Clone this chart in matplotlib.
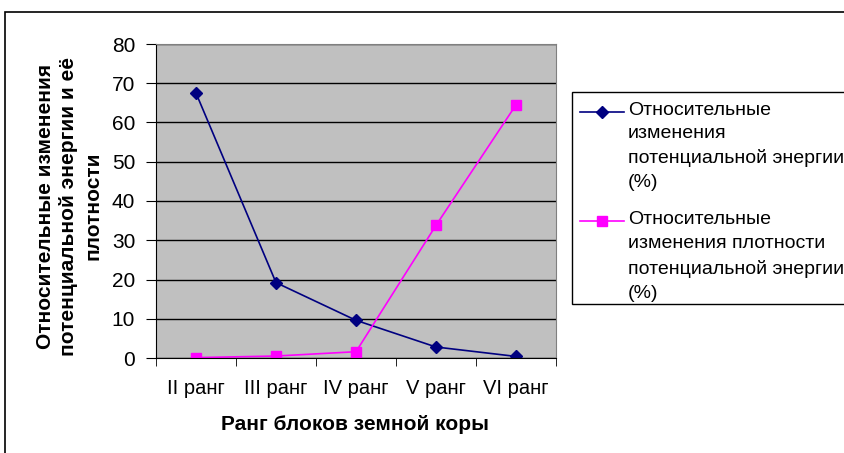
import matplotlib.pyplot as plt
import matplotlib.patches as patches
from matplotlib.lines import Line2D
import numpy as np

plt.rcParams['font.family'] = ['Liberation Sans', 'DejaVu Sans']

# data
ranks = ['II ранг', 'III ранг', 'IV ранг', 'V ранг', 'VI ранг']
energy = [67.5, 19.2, 9.6, 2.8, 0.4]
density = [0.1, 0.5, 1.6, 33.8, 64.5]
label_energy = 'Относительные\nизменения\nпотенциальной энергии\n(%)'
label_density = 'Относительные\nизменения плотности\nпотенциальной энергии\n(%)'

W, H = 845, 453
fig = plt.figure(figsize=(W / 100, H / 100), dpi=100)


def fx(px):
    return px / W


def fy(py):
    return 1 - py / H


# outer chart frame (right and bottom edges run off the picture)
fig.patches.append(patches.Rectangle((fx(5), -0.1), 1.0, fy(12) + 0.1,
                                     transform=fig.transFigure, fill=False,
                                     edgecolor='black', linewidth=1.2))

ax = fig.add_axes([fx(156), fy(358), 400 / W, 314 / H])
ax.set_facecolor('#C0C0C0')

x = np.arange(len(ranks))
styles = [
    (energy, '#000080', 'D', 6, label_energy),
    (density, '#FF00FF', 's', 6.5, label_density),
]
for vals, col, mk, ms, lab in styles:
    ax.plot(x, vals, color=col, marker=mk, markersize=ms, linewidth=1.2)

ax.set_xlim(-0.5, len(ranks) - 0.5)
ax.set_ylim(0, 80)
ax.set_yticks(np.arange(0, 81, 10))
ax.yaxis.grid(True, color='black', linewidth=1)
ax.set_axisbelow(True)

ax.set_xticks(x)
ax.set_xticklabels(ranks, fontsize=14.5)
ax.set_xticks(np.arange(-0.5, len(ranks), 1), minor=True)
ax.tick_params(axis='x', which='major', length=0, pad=15)
ax.tick_params(axis='x', which='minor', length=6, direction='out', color='black')
ax.tick_params(axis='y', length=7, direction='out', labelsize=15, pad=8)

for side in ['top', 'right']:
    ax.spines[side].set_color('#808080')
for side in ['left', 'bottom']:
    ax.spines[side].set_color('black')

fig.text(fx(355), fy(425), 'Ранг блоков земной коры', ha='center', va='center',
         fontsize=15, fontweight='bold')
fig.text(fx(69), fy(206),
         'Относительные изменения\nпотенциальной энергии и её\nплотности',
         rotation=90, ha='center', va='center', fontsize=15,
         fontweight='bold', multialignment='center', linespacing=1.33)

# legend box drawn by hand so markers sit on the first text line, as in Excel
fig.patches.append(patches.Rectangle((fx(572), fy(304)), 1.0, fy(92) - fy(304),
                                     transform=fig.transFigure, fill=True,
                                     facecolor='white', edgecolor='black',
                                     linewidth=1, zorder=5))
entry_top = [102, 211]
entry_spacing = [1.49, 1.56]
for (vals, col, mk, ms, lab), top, ls in zip(styles, entry_top, entry_spacing):
    fig.lines.append(Line2D([fx(580), fx(624)], [fy(top + 10)] * 2,
                            transform=fig.transFigure, color=col,
                            linewidth=1.2, zorder=6))
    fig.lines.append(Line2D([fx(602)], [fy(top + 10)], transform=fig.transFigure,
                            color=col, marker=mk, markersize=ms, zorder=7))
    fig.text(fx(628), fy(top), lab, ha='left', va='top', fontsize=14,
             linespacing=ls, zorder=7)

fig.savefig('out.png', dpi=100)
